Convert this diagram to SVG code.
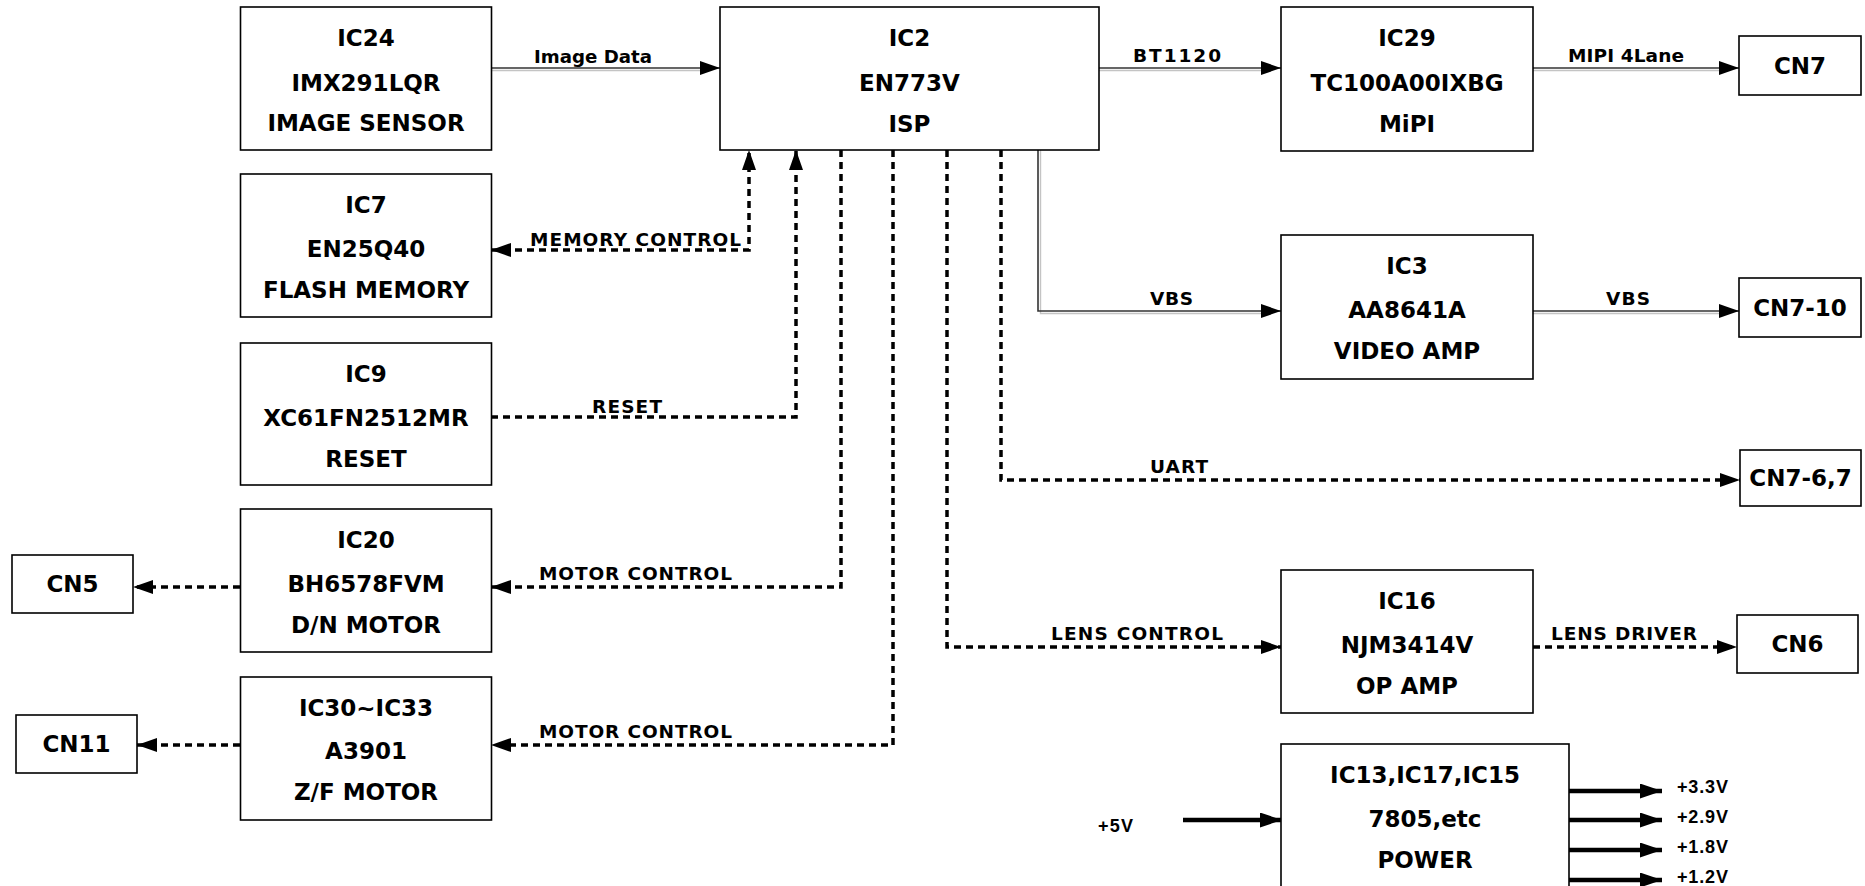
<svg xmlns="http://www.w3.org/2000/svg" width="1865" height="886" viewBox="0 0 1865 886">
<defs>
<style>
.box{fill:#fff;stroke:#000;stroke-width:1.6}
.nt{font-family:"DejaVu Sans","Liberation Sans",sans-serif;font-weight:bold;font-size:23px;fill:#000;text-anchor:middle}
.lb{font-family:"DejaVu Sans","Liberation Sans",sans-serif;font-weight:bold;font-size:18.5px;fill:#000}
.pv{font-family:"Liberation Sans",Arial,sans-serif;font-weight:bold;font-size:18px;fill:#000}
.sol{fill:none;stroke:#333;stroke-width:1.6}
.sh{fill:none;stroke:#c4c4c4;stroke-width:1.4}
.dsh{fill:none;stroke:#000;stroke-width:3.5;stroke-dasharray:7 5}
.thk{fill:none;stroke:#000;stroke-width:4.5}
</style>
<marker id="ah" viewBox="0 0 20 14" markerWidth="20" markerHeight="14" refX="20" refY="7" orient="auto-start-reverse" markerUnits="userSpaceOnUse"><path d="M0,0 L20,7 L0,14 Z" fill="#000"/></marker>
<marker id="ahb" viewBox="0 0 22 15" markerWidth="22" markerHeight="15" refX="22" refY="7.5" orient="auto" markerUnits="userSpaceOnUse"><path d="M0,0 L22,7.5 L0,15 Z" fill="#000"/></marker>
</defs>
<rect width="1865" height="886" fill="#fff"/>

<g id="connectors">
  <path class="sh" d="M491 70.5 L700 70.5"/>
  <path class="sh" d="M1099 70.5 L1262 70.5"/>
  <path class="sh" d="M1533 70.5 L1720 70.5"/>
  <path class="sh" d="M1040.5 150 L1040.5 313.5 L1262 313.5"/>
  <path class="sh" d="M1533 313.5 L1720 313.5"/>
  <path class="sol" d="M491 68 L720 68" marker-end="url(#ah)"/>
  <path class="sol" d="M1099 68 L1281 68" marker-end="url(#ah)"/>
  <path class="sol" d="M1533 68 L1739 68" marker-end="url(#ah)"/>
  <path class="sol" d="M1038 150 L1038 311 L1281 311" marker-end="url(#ah)"/>
  <path class="sol" d="M1533 311 L1739 311" marker-end="url(#ah)"/>
  <path class="dsh" d="M491 250 L749 250 L749 150" marker-start="url(#ah)" marker-end="url(#ah)"/>
  <path class="dsh" d="M491 417 L796 417 L796 150" marker-end="url(#ah)"/>
  <path class="dsh" d="M841 150 L841 587 L491 587" marker-end="url(#ah)"/>
  <path class="dsh" d="M893 150 L893 745 L491 745" marker-end="url(#ah)"/>
  <path class="dsh" d="M240 587 L133 587" marker-end="url(#ah)"/>
  <path class="dsh" d="M240 745 L137 745" marker-end="url(#ah)"/>
  <path class="dsh" d="M947 150 L947 647 L1281 647" marker-end="url(#ah)"/>
  <path class="dsh" d="M1533 647 L1737 647" marker-end="url(#ah)"/>
  <path class="dsh" d="M1001 150 L1001 480 L1740 480" marker-end="url(#ah)"/>
  <path class="thk" d="M1183 820 L1282 820" marker-end="url(#ahb)"/>
  <path class="thk" d="M1569 791 L1662 791" marker-end="url(#ahb)"/>
  <path class="thk" d="M1569 820 L1662 820" marker-end="url(#ahb)"/>
  <path class="thk" d="M1569 850 L1662 850" marker-end="url(#ahb)"/>
  <path class="thk" d="M1569 880 L1662 880" marker-end="url(#ahb)"/>
  <text class="lb" x="534" y="63" textLength="118" lengthAdjust="spacingAndGlyphs">Image Data</text>
  <text class="lb" x="1133" y="62" textLength="88" lengthAdjust="spacing">BT1120</text>
  <text class="lb" x="1568" y="62" textLength="116" lengthAdjust="spacing">MIPI 4Lane</text>
  <text class="lb" x="530" y="246" textLength="211" lengthAdjust="spacing">MEMORY CONTROL</text>
  <text class="lb" x="592" y="413" textLength="70" lengthAdjust="spacing">RESET</text>
  <text class="lb" x="539" y="580" textLength="193" lengthAdjust="spacing">MOTOR CONTROL</text>
  <text class="lb" x="539" y="738" textLength="193" lengthAdjust="spacing">MOTOR CONTROL</text>
  <text class="lb" x="1150" y="305" textLength="43" lengthAdjust="spacing">VBS</text>
  <text class="lb" x="1606" y="305" textLength="44" lengthAdjust="spacing">VBS</text>
  <text class="lb" x="1150" y="473" textLength="58" lengthAdjust="spacing">UART</text>
  <text class="lb" x="1051" y="640" textLength="172" lengthAdjust="spacing">LENS CONTROL</text>
  <text class="lb" x="1551" y="640" textLength="146" lengthAdjust="spacing">LENS DRIVER</text>
  <text class="pv" x="1098" y="832" textLength="35" lengthAdjust="spacing">+5V</text>
  <text class="pv" x="1677" y="793" textLength="51" lengthAdjust="spacing">+3.3V</text>
  <text class="pv" x="1677" y="823" textLength="51" lengthAdjust="spacing">+2.9V</text>
  <text class="pv" x="1677" y="853" textLength="51" lengthAdjust="spacing">+1.8V</text>
  <text class="pv" x="1677" y="883" textLength="51" lengthAdjust="spacing">+1.2V</text>
</g>

<g id="IC24">
  <rect class="box" x="240.5" y="7" width="251" height="143"/>
  <text class="nt" x="366" y="46">IC24</text>
  <text class="nt" x="366" y="91">IMX291LQR</text>
  <text class="nt" x="366" y="131">IMAGE SENSOR</text>
</g>
<g id="IC2">
  <rect class="box" x="720" y="7" width="379" height="143"/>
  <text class="nt" x="909.5" y="46">IC2</text>
  <text class="nt" x="909.5" y="91">EN773V</text>
  <text class="nt" x="909.5" y="132">ISP</text>
</g>
<g id="IC29">
  <rect class="box" x="1281" y="7" width="252" height="144"/>
  <text class="nt" x="1407" y="46">IC29</text>
  <text class="nt" x="1407" y="91">TC100A00IXBG</text>
  <text class="nt" x="1407" y="132">MiPI</text>
</g>
<g id="CN7">
  <rect class="box" x="1739" y="36" width="122" height="59"/>
  <text class="nt" x="1800" y="74">CN7</text>
</g>
<g id="IC7">
  <rect class="box" x="240.5" y="174" width="251" height="143"/>
  <text class="nt" x="366" y="213">IC7</text>
  <text class="nt" x="366" y="257">EN25Q40</text>
  <text class="nt" x="366" y="298">FLASH MEMORY</text>
</g>
<g id="IC9">
  <rect class="box" x="240.5" y="343" width="251" height="142"/>
  <text class="nt" x="366" y="382">IC9</text>
  <text class="nt" x="366" y="426">XC61FN2512MR</text>
  <text class="nt" x="366" y="467">RESET</text>
</g>
<g id="IC20">
  <rect class="box" x="240.5" y="509" width="251" height="143"/>
  <text class="nt" x="366" y="548">IC20</text>
  <text class="nt" x="366" y="592">BH6578FVM</text>
  <text class="nt" x="366" y="633">D/N MOTOR</text>
</g>
<g id="IC30">
  <rect class="box" x="240.5" y="677" width="251" height="143"/>
  <text class="nt" x="366" y="716">IC30~IC33</text>
  <text class="nt" x="366" y="759">A3901</text>
  <text class="nt" x="366" y="800">Z/F MOTOR</text>
</g>
<g id="CN5">
  <rect class="box" x="12" y="555" width="121" height="58"/>
  <text class="nt" x="72.5" y="592">CN5</text>
</g>
<g id="CN11">
  <rect class="box" x="16" y="715" width="121" height="58"/>
  <text class="nt" x="76.5" y="752">CN11</text>
</g>
<g id="IC3">
  <rect class="box" x="1281" y="235" width="252" height="144"/>
  <text class="nt" x="1407" y="274">IC3</text>
  <text class="nt" x="1407" y="318">AA8641A</text>
  <text class="nt" x="1407" y="359">VIDEO AMP</text>
</g>
<g id="CN7-10">
  <rect class="box" x="1739" y="278" width="122" height="59"/>
  <text class="nt" x="1800" y="316">CN7-10</text>
</g>
<g id="CN7-6,7">
  <rect class="box" x="1740" y="450" width="121" height="56"/>
  <text class="nt" x="1800.5" y="486">CN7-6,7</text>
</g>
<g id="IC16">
  <rect class="box" x="1281" y="570" width="252" height="143"/>
  <text class="nt" x="1407" y="609">IC16</text>
  <text class="nt" x="1407" y="653">NJM3414V</text>
  <text class="nt" x="1407" y="694">OP AMP</text>
</g>
<g id="CN6">
  <rect class="box" x="1737" y="615" width="121" height="58"/>
  <text class="nt" x="1797.5" y="652">CN6</text>
</g>
<g id="POWER">
  <rect class="box" x="1281" y="744" width="288" height="160"/>
  <text class="nt" x="1425" y="783">IC13,IC17,IC15</text>
  <text class="nt" x="1425" y="827">7805,etc</text>
  <text class="nt" x="1425" y="868">POWER</text>
</g>
</svg>
